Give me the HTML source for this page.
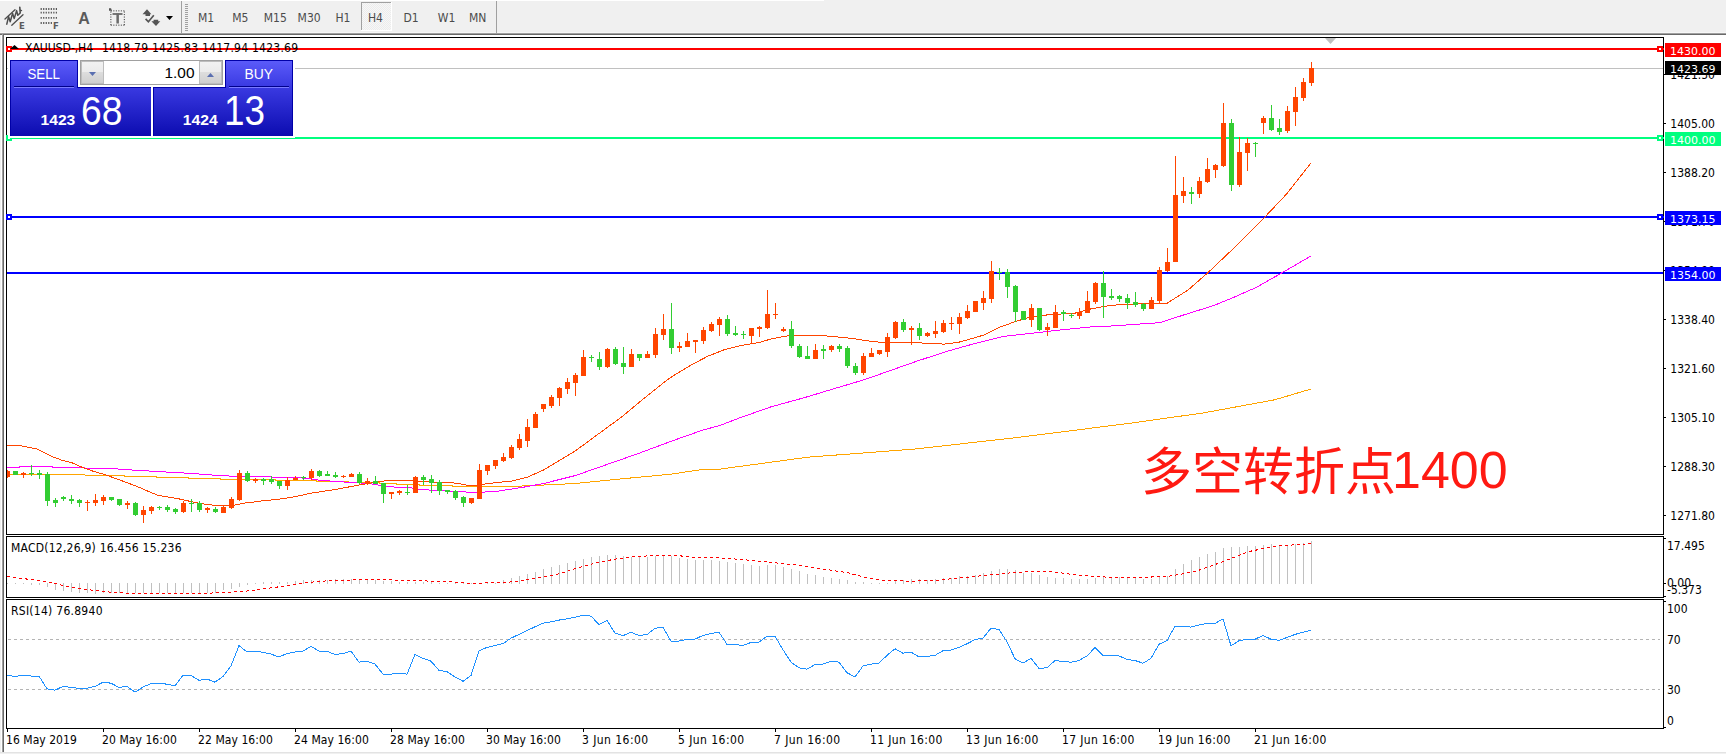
<!DOCTYPE html><html><head><meta charset="utf-8"><title>XAUUSD H4</title><style>html,body{margin:0;padding:0;background:#fff;width:1726px;height:754px;overflow:hidden}svg{display:block}</style></head><body>
<svg width="1726" height="754" viewBox="0 0 1726 754">
<defs><linearGradient id="gtab" x1="0" y1="0" x2="0" y2="1"><stop offset="0" stop-color="#5a5aff"/><stop offset="1" stop-color="#3c3ce6"/></linearGradient><linearGradient id="gbig" x1="0" y1="0" x2="0" y2="1"><stop offset="0" stop-color="#3c3ce6"/><stop offset="1" stop-color="#0a0ab4"/></linearGradient><linearGradient id="gbtn" x1="0" y1="0" x2="0" y2="1"><stop offset="0" stop-color="#f2f2f2"/><stop offset="0.5" stop-color="#ebebeb"/><stop offset="0.5" stop-color="#dddddd"/><stop offset="1" stop-color="#cfcfcf"/></linearGradient><pattern id="dith" width="2" height="2" patternUnits="userSpaceOnUse"><rect width="2" height="2" fill="#f7f7f7"/><rect width="1" height="1" fill="#ececec"/><rect x="1" y="1" width="1" height="1" fill="#ececec"/></pattern></defs>
<g shape-rendering="crispEdges">
<rect x="0" y="0" width="1726" height="33" fill="#f0f0f0"/>
<rect x="0" y="0" width="824" height="1" fill="#ffffff"/>
<rect x="0" y="32" width="1726" height="1" fill="#f7f7f7"/>
<rect x="0" y="33" width="1726" height="1" fill="#a0a0a0"/>
<rect x="0" y="34" width="1726" height="1" fill="#696969"/>
<rect x="0" y="35" width="1" height="717" fill="#f0f0f0"/>
<rect x="2" y="33" width="1" height="719" fill="#a0a0a0"/>
<rect x="3" y="34" width="1" height="718" fill="#696969"/>
<rect x="0" y="752" width="1726" height="1" fill="#e3e3e3"/>
<rect x="0" y="753" width="1726" height="1" fill="#f0f0f0"/>
<rect x="181" y="1" width="1" height="32" fill="#a0a0a0"/>
<rect x="496" y="1" width="1" height="32" fill="#a0a0a0"/>
<rect x="185" y="4" width="3" height="1" fill="#a0a0a0"/>
<rect x="185" y="6" width="3" height="1" fill="#a0a0a0"/>
<rect x="185" y="8" width="3" height="1" fill="#a0a0a0"/>
<rect x="185" y="10" width="3" height="1" fill="#a0a0a0"/>
<rect x="185" y="12" width="3" height="1" fill="#a0a0a0"/>
<rect x="185" y="14" width="3" height="1" fill="#a0a0a0"/>
<rect x="185" y="16" width="3" height="1" fill="#a0a0a0"/>
<rect x="185" y="18" width="3" height="1" fill="#a0a0a0"/>
<rect x="185" y="20" width="3" height="1" fill="#a0a0a0"/>
<rect x="185" y="22" width="3" height="1" fill="#a0a0a0"/>
<rect x="185" y="24" width="3" height="1" fill="#a0a0a0"/>
<rect x="185" y="26" width="3" height="1" fill="#a0a0a0"/>
<rect x="185" y="28" width="3" height="1" fill="#a0a0a0"/>
<rect x="185" y="30" width="3" height="1" fill="#a0a0a0"/>
<rect x="361" y="2" width="31" height="29" fill="url(#dith)"/>
<rect x="361" y="2" width="31" height="1" fill="#a0a0a0"/>
<rect x="361" y="2" width="1" height="29" fill="#a0a0a0"/>
<rect x="361" y="30" width="31" height="1" fill="#ffffff"/>
<rect x="391" y="2" width="1" height="29" fill="#ffffff"/>
</g>
<text x="198" y="22" style="font-family:'DejaVu Sans Condensed','DejaVu Sans',sans-serif;font-size:12px;fill:#4a4a4a;opacity:0.99">M1</text>
<text x="232.3" y="22" style="font-family:'DejaVu Sans Condensed','DejaVu Sans',sans-serif;font-size:12px;fill:#4a4a4a;opacity:0.99">M5</text>
<text x="263.8" y="22" style="font-family:'DejaVu Sans Condensed','DejaVu Sans',sans-serif;font-size:12px;fill:#4a4a4a;opacity:0.99">M15</text>
<text x="297.6" y="22" style="font-family:'DejaVu Sans Condensed','DejaVu Sans',sans-serif;font-size:12px;fill:#4a4a4a;opacity:0.99">M30</text>
<text x="335.4" y="22" style="font-family:'DejaVu Sans Condensed','DejaVu Sans',sans-serif;font-size:12px;fill:#4a4a4a;opacity:0.99">H1</text>
<text x="368" y="22" style="font-family:'DejaVu Sans Condensed','DejaVu Sans',sans-serif;font-size:12px;fill:#4a4a4a;opacity:0.99">H4</text>
<text x="403.4" y="22" style="font-family:'DejaVu Sans Condensed','DejaVu Sans',sans-serif;font-size:12px;fill:#4a4a4a;opacity:0.99">D1</text>
<text x="437.8" y="22" style="font-family:'DejaVu Sans Condensed','DejaVu Sans',sans-serif;font-size:12px;fill:#4a4a4a;opacity:0.99">W1</text>
<text x="469" y="22" style="font-family:'DejaVu Sans Condensed','DejaVu Sans',sans-serif;font-size:12px;fill:#4a4a4a;opacity:0.99">MN</text>
<g stroke="#4d4d4d" fill="none" stroke-linecap="round" stroke-linejoin="round"><line x1="5" y1="19" x2="15" y2="9.8" stroke-width="1.3"/><line x1="11.8" y1="25.3" x2="23" y2="14.8" stroke-width="1.3"/><polyline points="6.8,24.2 8.6,16.6 10.2,21.8 12.6,13.4 14.2,18.6 16.6,10.6 17.8,15.2 20,13.2" stroke-width="1.5"/><line x1="19.8" y1="7.2" x2="20.2" y2="12.5" stroke-width="1.6"/><line x1="20" y1="10" x2="21.6" y2="10.6" stroke-width="1.2"/></g><text x="19" y="29" style="font-family:'DejaVu Sans',sans-serif;font-size:8.5px;font-weight:bold;fill:#5a5a5a;opacity:0.99">E</text><line x1="40.6" y1="9" x2="57.2" y2="9" stroke="#555" stroke-width="1.8" stroke-dasharray="1.2 1.33"/><line x1="40.6" y1="12.7" x2="57.2" y2="12.7" stroke="#555" stroke-width="1.8" stroke-dasharray="1.2 1.33"/><line x1="40.6" y1="17.8" x2="57.2" y2="17.8" stroke="#555" stroke-width="1.8" stroke-dasharray="1.2 1.33"/><line x1="40.6" y1="23" x2="52.2" y2="23" stroke="#555" stroke-width="1.8" stroke-dasharray="1.2 1.33"/><text x="53" y="29" style="font-family:'DejaVu Sans',sans-serif;font-size:8.5px;font-weight:bold;fill:#5a5a5a;opacity:0.99">F</text><text x="78.2" y="24" style="font-family:'Liberation Sans',sans-serif;font-size:16px;font-weight:bold;fill:#5a5a5a;opacity:0.99">A</text><g fill="#4d4d4d"><rect x="110.8" y="10.3" width="1.1" height="1.1"/><rect x="110.8" y="24.6" width="1.1" height="1.1"/><rect x="113.3" y="10.3" width="1.1" height="1.1"/><rect x="113.3" y="24.6" width="1.1" height="1.1"/><rect x="115.8" y="10.3" width="1.1" height="1.1"/><rect x="115.8" y="24.6" width="1.1" height="1.1"/><rect x="118.3" y="10.3" width="1.1" height="1.1"/><rect x="118.3" y="24.6" width="1.1" height="1.1"/><rect x="120.8" y="10.3" width="1.1" height="1.1"/><rect x="120.8" y="24.6" width="1.1" height="1.1"/><rect x="123.3" y="10.3" width="1.1" height="1.1"/><rect x="123.3" y="24.6" width="1.1" height="1.1"/><rect x="110.3" y="11.5" width="1.1" height="1.1"/><rect x="123.8" y="11.5" width="1.1" height="1.1"/><rect x="110.3" y="14.0" width="1.1" height="1.1"/><rect x="123.8" y="14.0" width="1.1" height="1.1"/><rect x="110.3" y="16.5" width="1.1" height="1.1"/><rect x="123.8" y="16.5" width="1.1" height="1.1"/><rect x="110.3" y="19.0" width="1.1" height="1.1"/><rect x="123.8" y="19.0" width="1.1" height="1.1"/><rect x="110.3" y="21.5" width="1.1" height="1.1"/><rect x="123.8" y="21.5" width="1.1" height="1.1"/><rect x="110.3" y="24.0" width="1.1" height="1.1"/><rect x="123.8" y="24.0" width="1.1" height="1.1"/></g><path d="M109 8.2 L111 8.2 L112 10.8 L109 10.8 Z" fill="#555"/><rect x="112.5" y="13.1" width="10" height="1.8" fill="#6a6a6a"/><rect x="116.4" y="13.5" width="2.5" height="10" fill="#6a6a6a"/><path d="M142.5 14.3 L147 9.3 L151.4 14.3 L150 14.3 L150 15.9 L145.5 15.9 L145.5 14.3 Z" fill="#555"/><path d="M151.4 21.3 L153.6 21.3 L153.6 19.7 L158.2 19.7 L158.2 21.3 L160.3 21.3 L156 26 Z" fill="#555"/><polyline points="145.6,18.8 148.4,21.8 153.8,15.3" stroke="#555" stroke-width="1.7" fill="none"/><path d="M166 16 L173 16 L169.5 20 Z" fill="#000"/>
<g shape-rendering="crispEdges" fill="none" stroke="#000" stroke-width="1">
<rect x="6.5" y="37.5" width="1657" height="497"/>
<rect x="6.5" y="536.5" width="1657" height="61"/>
<rect x="6.5" y="599.5" width="1657" height="129"/>
</g>
<g shape-rendering="crispEdges">
<rect x="1664" y="74" width="2" height="1" fill="#000"/>
<rect x="1664" y="123" width="2" height="1" fill="#000"/>
<rect x="1664" y="172" width="2" height="1" fill="#000"/>
<rect x="1664" y="221" width="2" height="1" fill="#000"/>
<rect x="1664" y="270" width="2" height="1" fill="#000"/>
<rect x="1664" y="319" width="2" height="1" fill="#000"/>
<rect x="1664" y="368" width="2" height="1" fill="#000"/>
<rect x="1664" y="417" width="2" height="1" fill="#000"/>
<rect x="1664" y="466" width="2" height="1" fill="#000"/>
<rect x="1664" y="515" width="2" height="1" fill="#000"/>
</g>
<text x="1670.3" y="79" style="font-family:'DejaVu Sans Condensed','DejaVu Sans',sans-serif;font-size:12px;fill:#000">1421.50</text>
<text x="1670.3" y="128" style="font-family:'DejaVu Sans Condensed','DejaVu Sans',sans-serif;font-size:12px;fill:#000">1405.00</text>
<text x="1670.3" y="177" style="font-family:'DejaVu Sans Condensed','DejaVu Sans',sans-serif;font-size:12px;fill:#000">1388.20</text>
<text x="1670.3" y="226" style="font-family:'DejaVu Sans Condensed','DejaVu Sans',sans-serif;font-size:12px;fill:#000">1371.70</text>
<text x="1670.3" y="275" style="font-family:'DejaVu Sans Condensed','DejaVu Sans',sans-serif;font-size:12px;fill:#000">1354.90</text>
<text x="1670.3" y="324" style="font-family:'DejaVu Sans Condensed','DejaVu Sans',sans-serif;font-size:12px;fill:#000">1338.40</text>
<text x="1670.3" y="373" style="font-family:'DejaVu Sans Condensed','DejaVu Sans',sans-serif;font-size:12px;fill:#000">1321.60</text>
<text x="1670.3" y="422" style="font-family:'DejaVu Sans Condensed','DejaVu Sans',sans-serif;font-size:12px;fill:#000">1305.10</text>
<text x="1670.3" y="471" style="font-family:'DejaVu Sans Condensed','DejaVu Sans',sans-serif;font-size:12px;fill:#000">1288.30</text>
<text x="1670.3" y="520" style="font-family:'DejaVu Sans Condensed','DejaVu Sans',sans-serif;font-size:12px;fill:#000">1271.80</text>
<clipPath id="cmain"><rect x="7" y="38" width="1656" height="496"/></clipPath>
<g clip-path="url(#cmain)">
<rect x="7" y="68" width="1656" height="1" fill="#c0c0c0" shape-rendering="crispEdges"/>
<g shape-rendering="crispEdges">
<rect x="7" y="48" width="1656" height="2" fill="#ff0000"/>
<rect x="7" y="137" width="1656" height="2" fill="#00ff7f"/>
<rect x="7" y="216" width="1656" height="2" fill="#0000ff"/>
<rect x="7" y="272" width="1656" height="2" fill="#0000ff"/>
</g>
<polyline points="6.0,474.0 84.0,474.0 85.0,475.3 124.0,475.3 125.0,476.5 156.0,476.5 157.0,477.4 188.0,477.4 189.0,478.4 220.0,478.4 221.0,479.4 275.0,479.4 276.0,480.4 316.0,480.4 317.0,481.3 348.0,481.3 349.0,482.3 379.0,482.3 380.0,483.3 396.0,483.3 397.0,484.3 419.0,484.4 420.0,485.5 452.0,485.5 453.0,486.4 510.0,486.4 527.7,485.8 575.5,483.5 623.2,478.7 671.0,474.2 700.0,469.8 720.0,469.1 807.8,457.2 915.5,449.0 1023.3,436.8 1131.0,423.1 1202.9,413.0 1274.7,399.8 1311.0,389.0" fill="none" stroke="#ffa500" stroke-width="1" shape-rendering="crispEdges"/>
<polyline points="6.0,467.4 19.0,467.4 19.5,466.6 52.0,466.6 52.5,467.5 84.0,467.5 84.5,468.2 108.0,468.2 124.0,469.5 140.0,470.5 156.0,471.4 172.0,472.4 196.0,473.6 204.0,474.6 220.0,475.4 237.0,476.5 260.0,476.8 290.0,477.3 305.0,478.2 318.0,480.0 340.0,481.8 355.0,482.5 375.0,484.3 385.0,486.4 400.0,487.4 412.0,488.0 420.0,489.5 443.0,490.8 459.0,491.5 470.0,492.3 482.0,492.3 490.0,491.5 499.0,491.0 524.6,487.0 543.7,483.5 575.5,475.5 607.3,464.4 639.2,453.2 671.0,441.3 702.8,430.1 720.0,425.4 739.6,417.9 771.4,406.7 803.2,398.0 835.1,388.4 864.3,379.7 889.0,371.0 918.0,360.8 946.9,351.4 975.9,343.2 1004.8,336.2 1033.8,333.0 1062.8,329.7 1091.7,326.8 1110.0,326.1 1160.5,322.6 1183.2,315.1 1213.4,305.7 1233.6,297.4 1256.3,287.4 1276.4,276.0 1311.0,256.0" fill="none" stroke="#ff00ff" stroke-width="1" shape-rendering="crispEdges"/>
<polyline points="6.6,445.5 19.1,445.5 25.5,446.6 37.0,449.1 42.0,451.7 51.0,456.1 61.2,460.0 71.4,462.5 82.9,467.6 91.8,470.8 107.0,475.3 122.4,481.0 137.7,486.7 147.9,491.2 158.0,495.3 178.5,498.8 198.9,503.3 212.0,505.0 224.0,505.5 234.0,505.3 242.7,503.3 251.0,502.4 259.4,501.2 266.9,500.5 275.2,499.6 282.6,498.6 291.0,497.4 298.4,496.0 310.0,493.3 336.0,489.4 357.9,485.2 379.7,481.5 388.2,480.5 403.3,480.5 421.8,481.5 443.6,482.4 457.0,483.2 467.1,485.2 477.2,485.5 482.4,484.3 500.0,482.2 511.8,481.1 527.7,477.1 543.7,469.9 559.6,460.4 575.5,450.8 597.8,434.4 623.2,415.8 639.2,402.3 655.1,389.5 667.0,380.0 675.9,374.1 691.8,364.6 707.7,356.3 723.7,349.9 739.6,345.8 760.3,342.3 771.4,338.8 788.9,335.6 819.2,335.4 835.1,336.7 851.0,338.3 866.9,340.7 882.8,342.6 900.0,342.6 932.4,343.2 944.0,344.2 958.5,342.3 970.1,339.1 984.6,334.8 999.0,327.5 1015.0,321.7 1026.6,318.1 1041.0,315.6 1051.2,314.5 1074.4,313.3 1091.7,308.7 1110.0,305.5 1125.2,304.2 1166.8,303.4 1188.2,289.9 1208.4,272.2 1231.0,250.8 1251.2,230.6 1266.3,215.5 1286.5,194.1 1311.0,163.0" fill="none" stroke="#ff4500" stroke-width="1" shape-rendering="crispEdges"/>
<g shape-rendering="crispEdges">
<rect x="7" y="470" width="1" height="8" fill="#ff4500"/>
<rect x="5" y="471" width="5" height="6" fill="#ff4500"/>
<rect x="15" y="471" width="1" height="4" fill="#32cd32"/>
<rect x="13" y="471" width="5" height="4" fill="#32cd32"/>
<rect x="23" y="472" width="1" height="6" fill="#ff4500"/>
<rect x="21" y="473" width="5" height="2" fill="#ff4500"/>
<rect x="31" y="465" width="1" height="11" fill="#32cd32"/>
<rect x="29" y="473" width="5" height="1" fill="#32cd32"/>
<rect x="39" y="470" width="1" height="9" fill="#32cd32"/>
<rect x="37" y="473" width="5" height="2" fill="#32cd32"/>
<rect x="47" y="472" width="1" height="34" fill="#32cd32"/>
<rect x="45" y="474" width="5" height="27" fill="#32cd32"/>
<rect x="55" y="498" width="1" height="9" fill="#32cd32"/>
<rect x="53" y="500" width="5" height="3" fill="#32cd32"/>
<rect x="63" y="496" width="1" height="5" fill="#32cd32"/>
<rect x="61" y="497" width="5" height="2" fill="#32cd32"/>
<rect x="71" y="495" width="1" height="9" fill="#32cd32"/>
<rect x="69" y="499" width="5" height="2" fill="#32cd32"/>
<rect x="79" y="499" width="1" height="8" fill="#32cd32"/>
<rect x="77" y="500" width="5" height="3" fill="#32cd32"/>
<rect x="87" y="500" width="1" height="11" fill="#ff4500"/>
<rect x="85" y="502" width="5" height="1" fill="#ff4500"/>
<rect x="95" y="494" width="1" height="12" fill="#ff4500"/>
<rect x="93" y="500" width="5" height="3" fill="#ff4500"/>
<rect x="103" y="495" width="1" height="10" fill="#ff4500"/>
<rect x="101" y="497" width="5" height="4" fill="#ff4500"/>
<rect x="111" y="497" width="1" height="4" fill="#32cd32"/>
<rect x="109" y="497" width="5" height="3" fill="#32cd32"/>
<rect x="119" y="499" width="1" height="7" fill="#32cd32"/>
<rect x="117" y="499" width="5" height="6" fill="#32cd32"/>
<rect x="127" y="501" width="1" height="8" fill="#ff4500"/>
<rect x="125" y="503" width="5" height="2" fill="#ff4500"/>
<rect x="135" y="502" width="1" height="14" fill="#32cd32"/>
<rect x="133" y="503" width="5" height="12" fill="#32cd32"/>
<rect x="143" y="506" width="1" height="17" fill="#ff4500"/>
<rect x="141" y="510" width="5" height="5" fill="#ff4500"/>
<rect x="151" y="506" width="1" height="8" fill="#ff4500"/>
<rect x="149" y="507" width="5" height="4" fill="#ff4500"/>
<rect x="159" y="506" width="1" height="4" fill="#32cd32"/>
<rect x="157" y="507" width="5" height="1" fill="#32cd32"/>
<rect x="167" y="505" width="1" height="7" fill="#32cd32"/>
<rect x="165" y="507" width="5" height="3" fill="#32cd32"/>
<rect x="175" y="508" width="1" height="6" fill="#32cd32"/>
<rect x="173" y="509" width="5" height="3" fill="#32cd32"/>
<rect x="183" y="501" width="1" height="12" fill="#ff4500"/>
<rect x="181" y="503" width="5" height="9" fill="#ff4500"/>
<rect x="191" y="499" width="1" height="13" fill="#32cd32"/>
<rect x="189" y="503" width="5" height="1" fill="#32cd32"/>
<rect x="199" y="501" width="1" height="11" fill="#32cd32"/>
<rect x="197" y="503" width="5" height="7" fill="#32cd32"/>
<rect x="207" y="507" width="1" height="6" fill="#ff4500"/>
<rect x="205" y="508" width="5" height="2" fill="#ff4500"/>
<rect x="215" y="507" width="1" height="6" fill="#32cd32"/>
<rect x="213" y="509" width="5" height="3" fill="#32cd32"/>
<rect x="223" y="506" width="1" height="7" fill="#ff4500"/>
<rect x="221" y="507" width="5" height="6" fill="#ff4500"/>
<rect x="231" y="497" width="1" height="12" fill="#ff4500"/>
<rect x="229" y="499" width="5" height="9" fill="#ff4500"/>
<rect x="239" y="470" width="1" height="31" fill="#ff4500"/>
<rect x="237" y="473" width="5" height="27" fill="#ff4500"/>
<rect x="247" y="471" width="1" height="11" fill="#32cd32"/>
<rect x="245" y="473" width="5" height="8" fill="#32cd32"/>
<rect x="255" y="478" width="1" height="5" fill="#ff4500"/>
<rect x="253" y="479" width="5" height="2" fill="#ff4500"/>
<rect x="263" y="478" width="1" height="7" fill="#32cd32"/>
<rect x="261" y="479" width="5" height="2" fill="#32cd32"/>
<rect x="271" y="476" width="1" height="8" fill="#32cd32"/>
<rect x="269" y="479" width="5" height="3" fill="#32cd32"/>
<rect x="279" y="481" width="1" height="8" fill="#32cd32"/>
<rect x="277" y="481" width="5" height="5" fill="#32cd32"/>
<rect x="287" y="477" width="1" height="13" fill="#ff4500"/>
<rect x="285" y="480" width="5" height="6" fill="#ff4500"/>
<rect x="295" y="476" width="1" height="4" fill="#ff4500"/>
<rect x="293" y="478" width="5" height="2" fill="#ff4500"/>
<rect x="303" y="476" width="1" height="4" fill="#32cd32"/>
<rect x="301" y="477" width="5" height="1" fill="#32cd32"/>
<rect x="311" y="469" width="1" height="11" fill="#ff4500"/>
<rect x="309" y="471" width="5" height="7" fill="#ff4500"/>
<rect x="319" y="470" width="1" height="7" fill="#32cd32"/>
<rect x="317" y="471" width="5" height="5" fill="#32cd32"/>
<rect x="327" y="471" width="1" height="5" fill="#32cd32"/>
<rect x="325" y="474" width="5" height="2" fill="#32cd32"/>
<rect x="335" y="472" width="1" height="6" fill="#32cd32"/>
<rect x="333" y="475" width="5" height="2" fill="#32cd32"/>
<rect x="343" y="475" width="1" height="3" fill="#ff4500"/>
<rect x="341" y="476" width="5" height="1" fill="#ff4500"/>
<rect x="351" y="473" width="1" height="4" fill="#ff4500"/>
<rect x="349" y="474" width="5" height="3" fill="#ff4500"/>
<rect x="359" y="472" width="1" height="12" fill="#32cd32"/>
<rect x="357" y="474" width="5" height="9" fill="#32cd32"/>
<rect x="367" y="478" width="1" height="7" fill="#ff4500"/>
<rect x="365" y="481" width="5" height="3" fill="#ff4500"/>
<rect x="375" y="476" width="1" height="8" fill="#32cd32"/>
<rect x="373" y="481" width="5" height="3" fill="#32cd32"/>
<rect x="383" y="483" width="1" height="20" fill="#32cd32"/>
<rect x="381" y="483" width="5" height="11" fill="#32cd32"/>
<rect x="391" y="492" width="1" height="7" fill="#ff4500"/>
<rect x="389" y="492" width="5" height="2" fill="#ff4500"/>
<rect x="399" y="490" width="1" height="5" fill="#ff4500"/>
<rect x="397" y="491" width="5" height="2" fill="#ff4500"/>
<rect x="407" y="485" width="1" height="10" fill="#32cd32"/>
<rect x="405" y="492" width="5" height="1" fill="#32cd32"/>
<rect x="415" y="476" width="1" height="17" fill="#ff4500"/>
<rect x="413" y="477" width="5" height="16" fill="#ff4500"/>
<rect x="423" y="475" width="1" height="10" fill="#32cd32"/>
<rect x="421" y="477" width="5" height="3" fill="#32cd32"/>
<rect x="431" y="475" width="1" height="18" fill="#32cd32"/>
<rect x="429" y="479" width="5" height="4" fill="#32cd32"/>
<rect x="439" y="480" width="1" height="15" fill="#32cd32"/>
<rect x="437" y="482" width="5" height="9" fill="#32cd32"/>
<rect x="447" y="490" width="1" height="4" fill="#32cd32"/>
<rect x="445" y="490" width="5" height="2" fill="#32cd32"/>
<rect x="455" y="490" width="1" height="10" fill="#32cd32"/>
<rect x="453" y="491" width="5" height="7" fill="#32cd32"/>
<rect x="463" y="496" width="1" height="11" fill="#32cd32"/>
<rect x="461" y="497" width="5" height="6" fill="#32cd32"/>
<rect x="471" y="498" width="1" height="6" fill="#ff4500"/>
<rect x="469" y="498" width="5" height="5" fill="#ff4500"/>
<rect x="479" y="464" width="1" height="35" fill="#ff4500"/>
<rect x="477" y="470" width="5" height="29" fill="#ff4500"/>
<rect x="487" y="465" width="1" height="10" fill="#ff4500"/>
<rect x="485" y="465" width="5" height="6" fill="#ff4500"/>
<rect x="495" y="460" width="1" height="9" fill="#ff4500"/>
<rect x="493" y="460" width="5" height="6" fill="#ff4500"/>
<rect x="503" y="453" width="1" height="9" fill="#ff4500"/>
<rect x="501" y="457" width="5" height="4" fill="#ff4500"/>
<rect x="511" y="445" width="1" height="14" fill="#ff4500"/>
<rect x="509" y="447" width="5" height="11" fill="#ff4500"/>
<rect x="519" y="434" width="1" height="16" fill="#ff4500"/>
<rect x="517" y="439" width="5" height="9" fill="#ff4500"/>
<rect x="527" y="419" width="1" height="28" fill="#ff4500"/>
<rect x="525" y="427" width="5" height="14" fill="#ff4500"/>
<rect x="535" y="412" width="1" height="16" fill="#ff4500"/>
<rect x="533" y="414" width="5" height="14" fill="#ff4500"/>
<rect x="543" y="404" width="1" height="8" fill="#ff4500"/>
<rect x="541" y="404" width="5" height="5" fill="#ff4500"/>
<rect x="551" y="395" width="1" height="13" fill="#ff4500"/>
<rect x="549" y="397" width="5" height="9" fill="#ff4500"/>
<rect x="559" y="387" width="1" height="19" fill="#ff4500"/>
<rect x="557" y="388" width="5" height="10" fill="#ff4500"/>
<rect x="567" y="378" width="1" height="16" fill="#ff4500"/>
<rect x="565" y="382" width="5" height="7" fill="#ff4500"/>
<rect x="575" y="373" width="1" height="23" fill="#ff4500"/>
<rect x="573" y="375" width="5" height="8" fill="#ff4500"/>
<rect x="583" y="350" width="1" height="26" fill="#ff4500"/>
<rect x="581" y="357" width="5" height="19" fill="#ff4500"/>
<rect x="591" y="355" width="1" height="7" fill="#32cd32"/>
<rect x="589" y="357" width="5" height="1" fill="#32cd32"/>
<rect x="599" y="352" width="1" height="18" fill="#32cd32"/>
<rect x="597" y="359" width="5" height="8" fill="#32cd32"/>
<rect x="607" y="348" width="1" height="20" fill="#ff4500"/>
<rect x="605" y="349" width="5" height="18" fill="#ff4500"/>
<rect x="615" y="347" width="1" height="18" fill="#32cd32"/>
<rect x="613" y="349" width="5" height="15" fill="#32cd32"/>
<rect x="623" y="347" width="1" height="27" fill="#32cd32"/>
<rect x="621" y="363" width="5" height="4" fill="#32cd32"/>
<rect x="631" y="349" width="1" height="18" fill="#ff4500"/>
<rect x="629" y="354" width="5" height="13" fill="#ff4500"/>
<rect x="639" y="354" width="1" height="7" fill="#32cd32"/>
<rect x="637" y="354" width="5" height="4" fill="#32cd32"/>
<rect x="647" y="351" width="1" height="7" fill="#ff4500"/>
<rect x="645" y="354" width="5" height="4" fill="#ff4500"/>
<rect x="655" y="328" width="1" height="30" fill="#ff4500"/>
<rect x="653" y="334" width="5" height="21" fill="#ff4500"/>
<rect x="663" y="314" width="1" height="26" fill="#ff4500"/>
<rect x="661" y="329" width="5" height="6" fill="#ff4500"/>
<rect x="671" y="303" width="1" height="51" fill="#32cd32"/>
<rect x="669" y="329" width="5" height="19" fill="#32cd32"/>
<rect x="679" y="342" width="1" height="10" fill="#ff4500"/>
<rect x="677" y="346" width="5" height="2" fill="#ff4500"/>
<rect x="687" y="333" width="1" height="14" fill="#ff4500"/>
<rect x="685" y="341" width="5" height="6" fill="#ff4500"/>
<rect x="695" y="340" width="1" height="13" fill="#ff4500"/>
<rect x="693" y="340" width="5" height="2" fill="#ff4500"/>
<rect x="703" y="327" width="1" height="17" fill="#ff4500"/>
<rect x="701" y="330" width="5" height="11" fill="#ff4500"/>
<rect x="711" y="322" width="1" height="10" fill="#ff4500"/>
<rect x="709" y="324" width="5" height="7" fill="#ff4500"/>
<rect x="719" y="317" width="1" height="19" fill="#ff4500"/>
<rect x="717" y="319" width="5" height="6" fill="#ff4500"/>
<rect x="727" y="315" width="1" height="21" fill="#32cd32"/>
<rect x="725" y="319" width="5" height="15" fill="#32cd32"/>
<rect x="735" y="326" width="1" height="10" fill="#32cd32"/>
<rect x="733" y="333" width="5" height="2" fill="#32cd32"/>
<rect x="743" y="331" width="1" height="8" fill="#32cd32"/>
<rect x="741" y="334" width="5" height="1" fill="#32cd32"/>
<rect x="751" y="328" width="1" height="15" fill="#ff4500"/>
<rect x="749" y="328" width="5" height="8" fill="#ff4500"/>
<rect x="759" y="326" width="1" height="11" fill="#ff4500"/>
<rect x="757" y="327" width="5" height="2" fill="#ff4500"/>
<rect x="767" y="290" width="1" height="39" fill="#ff4500"/>
<rect x="765" y="314" width="5" height="14" fill="#ff4500"/>
<rect x="775" y="303" width="1" height="16" fill="#ff4500"/>
<rect x="773" y="314" width="5" height="1" fill="#ff4500"/>
<rect x="783" y="327" width="1" height="5" fill="#ff4500"/>
<rect x="781" y="329" width="5" height="2" fill="#ff4500"/>
<rect x="791" y="321" width="1" height="27" fill="#32cd32"/>
<rect x="789" y="329" width="5" height="17" fill="#32cd32"/>
<rect x="799" y="344" width="1" height="14" fill="#32cd32"/>
<rect x="797" y="346" width="5" height="11" fill="#32cd32"/>
<rect x="807" y="346" width="1" height="13" fill="#32cd32"/>
<rect x="805" y="356" width="5" height="3" fill="#32cd32"/>
<rect x="815" y="344" width="1" height="15" fill="#ff4500"/>
<rect x="813" y="350" width="5" height="9" fill="#ff4500"/>
<rect x="823" y="345" width="1" height="14" fill="#32cd32"/>
<rect x="821" y="349" width="5" height="2" fill="#32cd32"/>
<rect x="831" y="345" width="1" height="7" fill="#ff4500"/>
<rect x="829" y="346" width="5" height="4" fill="#ff4500"/>
<rect x="839" y="344" width="1" height="8" fill="#32cd32"/>
<rect x="837" y="346" width="5" height="3" fill="#32cd32"/>
<rect x="847" y="346" width="1" height="22" fill="#32cd32"/>
<rect x="845" y="348" width="5" height="18" fill="#32cd32"/>
<rect x="855" y="363" width="1" height="12" fill="#32cd32"/>
<rect x="853" y="366" width="5" height="7" fill="#32cd32"/>
<rect x="863" y="353" width="1" height="22" fill="#ff4500"/>
<rect x="861" y="356" width="5" height="17" fill="#ff4500"/>
<rect x="871" y="348" width="1" height="9" fill="#ff4500"/>
<rect x="869" y="353" width="5" height="4" fill="#ff4500"/>
<rect x="879" y="350" width="1" height="5" fill="#ff4500"/>
<rect x="877" y="350" width="5" height="4" fill="#ff4500"/>
<rect x="887" y="333" width="1" height="24" fill="#ff4500"/>
<rect x="885" y="337" width="5" height="15" fill="#ff4500"/>
<rect x="895" y="321" width="1" height="18" fill="#ff4500"/>
<rect x="893" y="322" width="5" height="16" fill="#ff4500"/>
<rect x="903" y="319" width="1" height="13" fill="#32cd32"/>
<rect x="901" y="322" width="5" height="8" fill="#32cd32"/>
<rect x="911" y="326" width="1" height="19" fill="#ff4500"/>
<rect x="909" y="328" width="5" height="2" fill="#ff4500"/>
<rect x="919" y="323" width="1" height="17" fill="#32cd32"/>
<rect x="917" y="328" width="5" height="8" fill="#32cd32"/>
<rect x="927" y="332" width="1" height="5" fill="#ff4500"/>
<rect x="925" y="333" width="5" height="3" fill="#ff4500"/>
<rect x="935" y="321" width="1" height="17" fill="#ff4500"/>
<rect x="933" y="331" width="5" height="3" fill="#ff4500"/>
<rect x="943" y="320" width="1" height="13" fill="#ff4500"/>
<rect x="941" y="323" width="5" height="9" fill="#ff4500"/>
<rect x="951" y="317" width="1" height="13" fill="#ff4500"/>
<rect x="949" y="323" width="5" height="1" fill="#ff4500"/>
<rect x="959" y="313" width="1" height="21" fill="#ff4500"/>
<rect x="957" y="317" width="5" height="7" fill="#ff4500"/>
<rect x="967" y="305" width="1" height="14" fill="#ff4500"/>
<rect x="965" y="311" width="5" height="7" fill="#ff4500"/>
<rect x="975" y="301" width="1" height="11" fill="#ff4500"/>
<rect x="973" y="301" width="5" height="11" fill="#ff4500"/>
<rect x="983" y="291" width="1" height="19" fill="#ff4500"/>
<rect x="981" y="298" width="5" height="5" fill="#ff4500"/>
<rect x="991" y="261" width="1" height="42" fill="#ff4500"/>
<rect x="989" y="271" width="5" height="28" fill="#ff4500"/>
<rect x="999" y="268" width="1" height="12" fill="#32cd32"/>
<rect x="997" y="272" width="5" height="1" fill="#32cd32"/>
<rect x="1007" y="269" width="1" height="29" fill="#32cd32"/>
<rect x="1005" y="272" width="5" height="15" fill="#32cd32"/>
<rect x="1015" y="285" width="1" height="37" fill="#32cd32"/>
<rect x="1013" y="286" width="5" height="26" fill="#32cd32"/>
<rect x="1023" y="311" width="1" height="9" fill="#32cd32"/>
<rect x="1021" y="311" width="5" height="9" fill="#32cd32"/>
<rect x="1031" y="304" width="1" height="23" fill="#ff4500"/>
<rect x="1029" y="308" width="5" height="12" fill="#ff4500"/>
<rect x="1039" y="308" width="1" height="23" fill="#32cd32"/>
<rect x="1037" y="308" width="5" height="22" fill="#32cd32"/>
<rect x="1047" y="323" width="1" height="13" fill="#ff4500"/>
<rect x="1045" y="327" width="5" height="3" fill="#ff4500"/>
<rect x="1055" y="305" width="1" height="23" fill="#ff4500"/>
<rect x="1053" y="312" width="5" height="16" fill="#ff4500"/>
<rect x="1063" y="310" width="1" height="11" fill="#32cd32"/>
<rect x="1061" y="312" width="5" height="2" fill="#32cd32"/>
<rect x="1071" y="313" width="1" height="5" fill="#32cd32"/>
<rect x="1069" y="315" width="5" height="1" fill="#32cd32"/>
<rect x="1079" y="308" width="1" height="11" fill="#ff4500"/>
<rect x="1077" y="312" width="5" height="4" fill="#ff4500"/>
<rect x="1087" y="291" width="1" height="22" fill="#ff4500"/>
<rect x="1085" y="301" width="5" height="12" fill="#ff4500"/>
<rect x="1095" y="282" width="1" height="22" fill="#ff4500"/>
<rect x="1093" y="283" width="5" height="19" fill="#ff4500"/>
<rect x="1103" y="271" width="1" height="47" fill="#32cd32"/>
<rect x="1101" y="283" width="5" height="14" fill="#32cd32"/>
<rect x="1111" y="289" width="1" height="11" fill="#32cd32"/>
<rect x="1109" y="296" width="5" height="2" fill="#32cd32"/>
<rect x="1119" y="295" width="1" height="7" fill="#32cd32"/>
<rect x="1117" y="296" width="5" height="3" fill="#32cd32"/>
<rect x="1127" y="294" width="1" height="15" fill="#32cd32"/>
<rect x="1125" y="298" width="5" height="5" fill="#32cd32"/>
<rect x="1135" y="292" width="1" height="15" fill="#32cd32"/>
<rect x="1133" y="302" width="5" height="3" fill="#32cd32"/>
<rect x="1143" y="303" width="1" height="8" fill="#32cd32"/>
<rect x="1141" y="304" width="5" height="5" fill="#32cd32"/>
<rect x="1151" y="297" width="1" height="12" fill="#ff4500"/>
<rect x="1149" y="300" width="5" height="9" fill="#ff4500"/>
<rect x="1159" y="267" width="1" height="36" fill="#ff4500"/>
<rect x="1157" y="270" width="5" height="31" fill="#ff4500"/>
<rect x="1167" y="248" width="1" height="24" fill="#ff4500"/>
<rect x="1165" y="262" width="5" height="9" fill="#ff4500"/>
<rect x="1175" y="156" width="1" height="106" fill="#ff4500"/>
<rect x="1173" y="195" width="5" height="67" fill="#ff4500"/>
<rect x="1183" y="177" width="1" height="26" fill="#ff4500"/>
<rect x="1181" y="191" width="5" height="5" fill="#ff4500"/>
<rect x="1191" y="187" width="1" height="17" fill="#32cd32"/>
<rect x="1189" y="192" width="5" height="2" fill="#32cd32"/>
<rect x="1199" y="177" width="1" height="21" fill="#ff4500"/>
<rect x="1197" y="181" width="5" height="13" fill="#ff4500"/>
<rect x="1207" y="158" width="1" height="25" fill="#ff4500"/>
<rect x="1205" y="169" width="5" height="13" fill="#ff4500"/>
<rect x="1215" y="164" width="1" height="14" fill="#ff4500"/>
<rect x="1213" y="165" width="5" height="5" fill="#ff4500"/>
<rect x="1223" y="103" width="1" height="64" fill="#ff4500"/>
<rect x="1221" y="123" width="5" height="43" fill="#ff4500"/>
<rect x="1231" y="119" width="1" height="72" fill="#32cd32"/>
<rect x="1229" y="123" width="5" height="62" fill="#32cd32"/>
<rect x="1239" y="137" width="1" height="50" fill="#ff4500"/>
<rect x="1237" y="152" width="5" height="33" fill="#ff4500"/>
<rect x="1247" y="138" width="1" height="33" fill="#ff4500"/>
<rect x="1245" y="143" width="5" height="10" fill="#ff4500"/>
<rect x="1255" y="142" width="1" height="15" fill="#32cd32"/>
<rect x="1253" y="143" width="5" height="1" fill="#32cd32"/>
<rect x="1263" y="116" width="1" height="18" fill="#ff4500"/>
<rect x="1261" y="118" width="5" height="5" fill="#ff4500"/>
<rect x="1271" y="105" width="1" height="26" fill="#32cd32"/>
<rect x="1269" y="118" width="5" height="12" fill="#32cd32"/>
<rect x="1279" y="119" width="1" height="16" fill="#32cd32"/>
<rect x="1277" y="128" width="5" height="4" fill="#32cd32"/>
<rect x="1287" y="106" width="1" height="27" fill="#ff4500"/>
<rect x="1285" y="111" width="5" height="20" fill="#ff4500"/>
<rect x="1295" y="87" width="1" height="39" fill="#ff4500"/>
<rect x="1293" y="97" width="5" height="15" fill="#ff4500"/>
<rect x="1303" y="78" width="1" height="23" fill="#ff4500"/>
<rect x="1301" y="82" width="5" height="16" fill="#ff4500"/>
<rect x="1311" y="62" width="1" height="24" fill="#ff4500"/>
<rect x="1309" y="68" width="5" height="15" fill="#ff4500"/>
</g>
</g>
<g shape-rendering="crispEdges">
<rect x="6" y="46" width="6" height="6" fill="#ff0000"/><rect x="8" y="48" width="2" height="2" fill="#fff"/><rect x="1657" y="46" width="6" height="6" fill="#ff0000"/><rect x="1659" y="48" width="2" height="2" fill="#fff"/>
<rect x="6" y="135" width="6" height="6" fill="#00ff7f"/><rect x="8" y="137" width="2" height="2" fill="#fff"/><rect x="1657" y="135" width="6" height="6" fill="#00ff7f"/><rect x="1659" y="137" width="2" height="2" fill="#fff"/>
<rect x="6" y="214" width="6" height="6" fill="#0000ff"/><rect x="8" y="216" width="2" height="2" fill="#fff"/><rect x="1657" y="214" width="6" height="6" fill="#0000ff"/><rect x="1659" y="216" width="2" height="2" fill="#fff"/>
</g>
<g shape-rendering="crispEdges">
<rect x="1663" y="48" width="1" height="2" fill="#ff0000"/>
<rect x="1663" y="137" width="1" height="2" fill="#00ff7f"/>
<rect x="1663" y="216" width="1" height="2" fill="#0000ff"/>
</g>
<text x="1141" y="490" style="font-family:'Liberation Sans','Noto Sans CJK SC',sans-serif;font-size:51px;fill:#ff1a12">多空转折点</text>
<text x="1392" y="487.5" style="font-family:'Liberation Sans','Noto Sans CJK SC',sans-serif;font-size:52px;fill:#ff1a12">1400</text>
<rect x="1665" y="43" width="56" height="14" fill="#ff0000" shape-rendering="crispEdges"/><text x="1670" y="54.5" style="font-family:'DejaVu Sans',sans-serif;font-size:11px;fill:#fff">1430.00</text>
<rect x="1665" y="61" width="56" height="14" fill="#000000" shape-rendering="crispEdges"/><text x="1670" y="72.5" style="font-family:'DejaVu Sans',sans-serif;font-size:11px;fill:#fff">1423.69</text>
<rect x="1665" y="132" width="56" height="14" fill="#00ff7f" shape-rendering="crispEdges"/><text x="1670" y="143.5" style="font-family:'DejaVu Sans',sans-serif;font-size:11px;fill:#fff">1400.00</text>
<rect x="1665" y="211" width="56" height="14" fill="#0000ff" shape-rendering="crispEdges"/><text x="1670" y="222.5" style="font-family:'DejaVu Sans',sans-serif;font-size:11px;fill:#fff">1373.15</text>
<rect x="1665" y="267" width="56" height="14" fill="#0000ff" shape-rendering="crispEdges"/><text x="1670" y="278.5" style="font-family:'DejaVu Sans',sans-serif;font-size:11px;fill:#fff">1354.00</text>
<path d="M1325 38 L1336 38 L1330.5 44 Z" fill="#c0c0c0"/>
<path d="M10 49 L14.5 45 L19 49 Z" fill="#000"/>
<text x="25" y="52" style="font-family:'DejaVu Sans Condensed','DejaVu Sans',sans-serif;font-size:12px;fill:#000">XAUUSD-,H4</text>
<text x="102" y="52" textLength="46" style="font-family:'DejaVu Sans Condensed','DejaVu Sans',sans-serif;font-size:12px;fill:#000">1418.79</text>
<text x="152" y="52" textLength="46" style="font-family:'DejaVu Sans Condensed','DejaVu Sans',sans-serif;font-size:12px;fill:#000">1425.83</text>
<text x="202" y="52" textLength="46" style="font-family:'DejaVu Sans Condensed','DejaVu Sans',sans-serif;font-size:12px;fill:#000">1417.94</text>
<text x="252" y="52" textLength="46" style="font-family:'DejaVu Sans Condensed','DejaVu Sans',sans-serif;font-size:12px;fill:#000">1423.69</text>
<linearGradient id="gpan" gradientUnits="userSpaceOnUse" x1="0" y1="60" x2="0" y2="136"><stop offset="0" stop-color="#5c5cfa"/><stop offset="0.35" stop-color="#3a3ae2"/><stop offset="1" stop-color="#0c0cb0"/></linearGradient><g shape-rendering="crispEdges"><rect x="8" y="58" width="287" height="80" fill="#fff"/><path d="M10 60 H78 V87 H151 V136 H10 Z" fill="url(#gpan)"/><path d="M10.5 136 V60.5 H77.5 V87.5 H151" fill="none" stroke="#0000a8"/><path d="M293 60 H225 V87 H153 V136 H293 Z" fill="url(#gpan)"/><path d="M153.5 136 V87.5 H225.5 V60.5 H292.5 V136" fill="none" stroke="#0000a8"/><rect x="14" y="86" width="60" height="1" fill="#00008a"/><rect x="14" y="87" width="60" height="1" fill="#7a7aff"/><rect x="229" y="86" width="60" height="1" fill="#00008a"/><rect x="229" y="87" width="60" height="1" fill="#7a7aff"/><rect x="80" y="60" width="143" height="25" fill="#fff"/><rect x="80.5" y="60.5" width="142" height="24" fill="none" stroke="#a0a0a0"/><rect x="82" y="62" width="21" height="21" fill="url(#gbtn)"/><rect x="81.5" y="61.5" width="22" height="22" fill="none" stroke="#bdbdbd"/><rect x="200" y="62" width="21" height="21" fill="url(#gbtn)"/><rect x="199.5" y="61.5" width="22" height="22" fill="none" stroke="#bdbdbd"/></g><path d="M89 72 L96 72 L92.5 76 Z" fill="#5a6fb0"/><path d="M207 77 L214 77 L210.5 73 Z" fill="#5a6fb0"/><text x="27.5" y="79" textLength="32.5" lengthAdjust="spacingAndGlyphs" style="font-family:'Liberation Sans',sans-serif;fill:#fff;font-size:14.5px">SELL</text><text x="244.5" y="79" textLength="28.5" lengthAdjust="spacingAndGlyphs" style="font-family:'Liberation Sans',sans-serif;fill:#fff;font-size:14.5px">BUY</text><text x="164.5" y="78" textLength="30" lengthAdjust="spacingAndGlyphs" style="font-family:'Liberation Sans',sans-serif;font-size:14.8px;fill:#000">1.00</text><text x="40.5" y="125" textLength="34.8" lengthAdjust="spacingAndGlyphs" style="font-family:'Liberation Sans',sans-serif;fill:#fff;font-size:14.4px;font-weight:bold">1423</text><text x="81" y="125" textLength="41.5" lengthAdjust="spacingAndGlyphs" style="font-family:'Liberation Sans',sans-serif;fill:#fff;font-size:40.5px">68</text><text x="182.7" y="125" textLength="35" lengthAdjust="spacingAndGlyphs" style="font-family:'Liberation Sans',sans-serif;fill:#fff;font-size:14.4px;font-weight:bold">1424</text><text x="224" y="125" textLength="41" lengthAdjust="spacingAndGlyphs" style="font-family:'Liberation Sans',sans-serif;fill:#fff;font-size:42px">13</text>
<g shape-rendering="crispEdges">
<rect x="7" y="583" width="1" height="1" fill="#c0c0c0"/>
<rect x="15" y="583" width="1" height="1" fill="#c0c0c0"/>
<rect x="23" y="583" width="1" height="1" fill="#c0c0c0"/>
<rect x="31" y="583" width="1" height="2" fill="#c0c0c0"/>
<rect x="39" y="583" width="1" height="2" fill="#c0c0c0"/>
<rect x="47" y="583" width="1" height="4" fill="#c0c0c0"/>
<rect x="55" y="583" width="1" height="7" fill="#c0c0c0"/>
<rect x="63" y="583" width="1" height="8" fill="#c0c0c0"/>
<rect x="71" y="583" width="1" height="9" fill="#c0c0c0"/>
<rect x="79" y="583" width="1" height="10" fill="#c0c0c0"/>
<rect x="87" y="583" width="1" height="10" fill="#c0c0c0"/>
<rect x="95" y="583" width="1" height="11" fill="#c0c0c0"/>
<rect x="103" y="583" width="1" height="10" fill="#c0c0c0"/>
<rect x="111" y="583" width="1" height="10" fill="#c0c0c0"/>
<rect x="119" y="583" width="1" height="10" fill="#c0c0c0"/>
<rect x="127" y="583" width="1" height="10" fill="#c0c0c0"/>
<rect x="135" y="583" width="1" height="10" fill="#c0c0c0"/>
<rect x="143" y="583" width="1" height="10" fill="#c0c0c0"/>
<rect x="151" y="583" width="1" height="10" fill="#c0c0c0"/>
<rect x="159" y="583" width="1" height="10" fill="#c0c0c0"/>
<rect x="167" y="583" width="1" height="10" fill="#c0c0c0"/>
<rect x="175" y="583" width="1" height="10" fill="#c0c0c0"/>
<rect x="183" y="583" width="1" height="10" fill="#c0c0c0"/>
<rect x="191" y="583" width="1" height="10" fill="#c0c0c0"/>
<rect x="199" y="583" width="1" height="10" fill="#c0c0c0"/>
<rect x="207" y="583" width="1" height="10" fill="#c0c0c0"/>
<rect x="215" y="583" width="1" height="10" fill="#c0c0c0"/>
<rect x="223" y="583" width="1" height="7" fill="#c0c0c0"/>
<rect x="231" y="583" width="1" height="6" fill="#c0c0c0"/>
<rect x="239" y="583" width="1" height="4" fill="#c0c0c0"/>
<rect x="247" y="583" width="1" height="2" fill="#c0c0c0"/>
<rect x="255" y="583" width="1" height="1" fill="#c0c0c0"/>
<rect x="263" y="582" width="1" height="2" fill="#c0c0c0"/>
<rect x="271" y="582" width="1" height="2" fill="#c0c0c0"/>
<rect x="279" y="582" width="1" height="2" fill="#c0c0c0"/>
<rect x="287" y="582" width="1" height="2" fill="#c0c0c0"/>
<rect x="295" y="581" width="1" height="3" fill="#c0c0c0"/>
<rect x="303" y="580" width="1" height="4" fill="#c0c0c0"/>
<rect x="311" y="580" width="1" height="4" fill="#c0c0c0"/>
<rect x="319" y="580" width="1" height="4" fill="#c0c0c0"/>
<rect x="327" y="580" width="1" height="4" fill="#c0c0c0"/>
<rect x="335" y="579" width="1" height="5" fill="#c0c0c0"/>
<rect x="343" y="579" width="1" height="5" fill="#c0c0c0"/>
<rect x="351" y="579" width="1" height="5" fill="#c0c0c0"/>
<rect x="359" y="579" width="1" height="5" fill="#c0c0c0"/>
<rect x="367" y="580" width="1" height="4" fill="#c0c0c0"/>
<rect x="375" y="580" width="1" height="4" fill="#c0c0c0"/>
<rect x="383" y="581" width="1" height="3" fill="#c0c0c0"/>
<rect x="391" y="581" width="1" height="3" fill="#c0c0c0"/>
<rect x="399" y="582" width="1" height="2" fill="#c0c0c0"/>
<rect x="407" y="582" width="1" height="2" fill="#c0c0c0"/>
<rect x="415" y="582" width="1" height="2" fill="#c0c0c0"/>
<rect x="423" y="582" width="1" height="2" fill="#c0c0c0"/>
<rect x="431" y="582" width="1" height="2" fill="#c0c0c0"/>
<rect x="439" y="583" width="1" height="1" fill="#c0c0c0"/>
<rect x="447" y="583" width="1" height="1" fill="#c0c0c0"/>
<rect x="455" y="583" width="1" height="1" fill="#c0c0c0"/>
<rect x="463" y="583" width="1" height="1" fill="#c0c0c0"/>
<rect x="471" y="583" width="1" height="1" fill="#c0c0c0"/>
<rect x="479" y="583" width="1" height="1" fill="#c0c0c0"/>
<rect x="487" y="583" width="1" height="1" fill="#c0c0c0"/>
<rect x="495" y="583" width="1" height="1" fill="#c0c0c0"/>
<rect x="503" y="580" width="1" height="4" fill="#c0c0c0"/>
<rect x="511" y="578" width="1" height="6" fill="#c0c0c0"/>
<rect x="519" y="576" width="1" height="8" fill="#c0c0c0"/>
<rect x="527" y="574" width="1" height="10" fill="#c0c0c0"/>
<rect x="535" y="572" width="1" height="12" fill="#c0c0c0"/>
<rect x="543" y="569" width="1" height="15" fill="#c0c0c0"/>
<rect x="551" y="567" width="1" height="17" fill="#c0c0c0"/>
<rect x="559" y="565" width="1" height="19" fill="#c0c0c0"/>
<rect x="567" y="563" width="1" height="21" fill="#c0c0c0"/>
<rect x="575" y="561" width="1" height="23" fill="#c0c0c0"/>
<rect x="583" y="559" width="1" height="25" fill="#c0c0c0"/>
<rect x="591" y="557" width="1" height="27" fill="#c0c0c0"/>
<rect x="599" y="556" width="1" height="28" fill="#c0c0c0"/>
<rect x="607" y="555" width="1" height="29" fill="#c0c0c0"/>
<rect x="615" y="555" width="1" height="29" fill="#c0c0c0"/>
<rect x="623" y="556" width="1" height="28" fill="#c0c0c0"/>
<rect x="631" y="557" width="1" height="27" fill="#c0c0c0"/>
<rect x="639" y="557" width="1" height="27" fill="#c0c0c0"/>
<rect x="647" y="557" width="1" height="27" fill="#c0c0c0"/>
<rect x="655" y="556" width="1" height="28" fill="#c0c0c0"/>
<rect x="663" y="556" width="1" height="28" fill="#c0c0c0"/>
<rect x="671" y="556" width="1" height="28" fill="#c0c0c0"/>
<rect x="679" y="558" width="1" height="26" fill="#c0c0c0"/>
<rect x="687" y="559" width="1" height="25" fill="#c0c0c0"/>
<rect x="695" y="560" width="1" height="24" fill="#c0c0c0"/>
<rect x="703" y="560" width="1" height="24" fill="#c0c0c0"/>
<rect x="711" y="560" width="1" height="24" fill="#c0c0c0"/>
<rect x="719" y="561" width="1" height="23" fill="#c0c0c0"/>
<rect x="727" y="562" width="1" height="22" fill="#c0c0c0"/>
<rect x="735" y="563" width="1" height="21" fill="#c0c0c0"/>
<rect x="743" y="564" width="1" height="20" fill="#c0c0c0"/>
<rect x="751" y="565" width="1" height="19" fill="#c0c0c0"/>
<rect x="759" y="566" width="1" height="18" fill="#c0c0c0"/>
<rect x="767" y="565" width="1" height="19" fill="#c0c0c0"/>
<rect x="775" y="565" width="1" height="19" fill="#c0c0c0"/>
<rect x="783" y="567" width="1" height="17" fill="#c0c0c0"/>
<rect x="791" y="569" width="1" height="15" fill="#c0c0c0"/>
<rect x="799" y="571" width="1" height="13" fill="#c0c0c0"/>
<rect x="807" y="574" width="1" height="10" fill="#c0c0c0"/>
<rect x="815" y="575" width="1" height="9" fill="#c0c0c0"/>
<rect x="823" y="577" width="1" height="7" fill="#c0c0c0"/>
<rect x="831" y="578" width="1" height="6" fill="#c0c0c0"/>
<rect x="839" y="579" width="1" height="5" fill="#c0c0c0"/>
<rect x="847" y="580" width="1" height="4" fill="#c0c0c0"/>
<rect x="855" y="582" width="1" height="2" fill="#c0c0c0"/>
<rect x="863" y="582" width="1" height="2" fill="#c0c0c0"/>
<rect x="871" y="583" width="1" height="1" fill="#c0c0c0"/>
<rect x="879" y="583" width="1" height="1" fill="#c0c0c0"/>
<rect x="887" y="583" width="1" height="1" fill="#c0c0c0"/>
<rect x="895" y="580" width="1" height="4" fill="#c0c0c0"/>
<rect x="903" y="580" width="1" height="4" fill="#c0c0c0"/>
<rect x="911" y="579" width="1" height="5" fill="#c0c0c0"/>
<rect x="919" y="579" width="1" height="5" fill="#c0c0c0"/>
<rect x="927" y="580" width="1" height="4" fill="#c0c0c0"/>
<rect x="935" y="579" width="1" height="5" fill="#c0c0c0"/>
<rect x="943" y="578" width="1" height="6" fill="#c0c0c0"/>
<rect x="951" y="578" width="1" height="6" fill="#c0c0c0"/>
<rect x="959" y="576" width="1" height="8" fill="#c0c0c0"/>
<rect x="967" y="576" width="1" height="8" fill="#c0c0c0"/>
<rect x="975" y="575" width="1" height="9" fill="#c0c0c0"/>
<rect x="983" y="573" width="1" height="11" fill="#c0c0c0"/>
<rect x="991" y="571" width="1" height="13" fill="#c0c0c0"/>
<rect x="999" y="569" width="1" height="15" fill="#c0c0c0"/>
<rect x="1007" y="569" width="1" height="15" fill="#c0c0c0"/>
<rect x="1015" y="570" width="1" height="14" fill="#c0c0c0"/>
<rect x="1023" y="573" width="1" height="11" fill="#c0c0c0"/>
<rect x="1031" y="573" width="1" height="11" fill="#c0c0c0"/>
<rect x="1039" y="575" width="1" height="9" fill="#c0c0c0"/>
<rect x="1047" y="577" width="1" height="7" fill="#c0c0c0"/>
<rect x="1055" y="578" width="1" height="6" fill="#c0c0c0"/>
<rect x="1063" y="578" width="1" height="6" fill="#c0c0c0"/>
<rect x="1071" y="579" width="1" height="5" fill="#c0c0c0"/>
<rect x="1079" y="579" width="1" height="5" fill="#c0c0c0"/>
<rect x="1087" y="579" width="1" height="5" fill="#c0c0c0"/>
<rect x="1095" y="578" width="1" height="6" fill="#c0c0c0"/>
<rect x="1103" y="577" width="1" height="7" fill="#c0c0c0"/>
<rect x="1111" y="577" width="1" height="7" fill="#c0c0c0"/>
<rect x="1119" y="577" width="1" height="7" fill="#c0c0c0"/>
<rect x="1127" y="577" width="1" height="7" fill="#c0c0c0"/>
<rect x="1135" y="577" width="1" height="7" fill="#c0c0c0"/>
<rect x="1143" y="579" width="1" height="5" fill="#c0c0c0"/>
<rect x="1151" y="579" width="1" height="5" fill="#c0c0c0"/>
<rect x="1159" y="576" width="1" height="8" fill="#c0c0c0"/>
<rect x="1167" y="576" width="1" height="8" fill="#c0c0c0"/>
<rect x="1175" y="569" width="1" height="15" fill="#c0c0c0"/>
<rect x="1183" y="564" width="1" height="20" fill="#c0c0c0"/>
<rect x="1191" y="560" width="1" height="24" fill="#c0c0c0"/>
<rect x="1199" y="557" width="1" height="27" fill="#c0c0c0"/>
<rect x="1207" y="554" width="1" height="30" fill="#c0c0c0"/>
<rect x="1215" y="552" width="1" height="32" fill="#c0c0c0"/>
<rect x="1223" y="548" width="1" height="36" fill="#c0c0c0"/>
<rect x="1231" y="547" width="1" height="37" fill="#c0c0c0"/>
<rect x="1239" y="547" width="1" height="37" fill="#c0c0c0"/>
<rect x="1247" y="546" width="1" height="38" fill="#c0c0c0"/>
<rect x="1255" y="546" width="1" height="38" fill="#c0c0c0"/>
<rect x="1263" y="545" width="1" height="39" fill="#c0c0c0"/>
<rect x="1271" y="544" width="1" height="40" fill="#c0c0c0"/>
<rect x="1279" y="545" width="1" height="39" fill="#c0c0c0"/>
<rect x="1287" y="545" width="1" height="39" fill="#c0c0c0"/>
<rect x="1295" y="544" width="1" height="40" fill="#c0c0c0"/>
<rect x="1303" y="543" width="1" height="41" fill="#c0c0c0"/>
<rect x="1311" y="541" width="1" height="43" fill="#c0c0c0"/>
</g>
<polyline points="7.0,576.3 15.0,577.5 21.0,578.4 31.0,579.5 39.0,580.5 47.0,582.0 55.0,583.5 63.0,585.4 71.0,587.0 79.0,588.3 87.0,589.6 95.0,590.5 103.0,591.4 111.0,592.2 119.0,592.4 127.0,593.3 200.0,593.4 200.8,593.4 226.0,592.5 240.0,591.6 255.0,590.4 260.0,589.0 272.0,587.8 290.0,585.2 303.0,583.1 320.0,581.2 340.0,580.5 360.0,579.5 390.0,579.5 395.0,580.3 420.0,580.8 440.0,581.4 456.0,582.2 469.0,583.3 505.6,582.5 518.6,581.0 534.3,578.6 547.3,576.5 560.3,573.4 573.4,569.2 586.4,565.5 599.4,562.2 612.5,559.6 628.1,557.2 651.6,555.6 677.7,555.6 690.7,557.0 716.8,557.7 742.8,559.6 768.9,562.2 795.0,564.8 821.0,568.7 847.1,572.6 870.0,578.6 883.0,580.4 909.1,581.2 935.2,580.4 961.2,577.8 987.3,575.2 1013.4,572.6 1039.4,571.3 1052.5,571.8 1078.5,575.2 1104.6,577.0 1151.5,577.0 1169.8,576.0 1182.8,573.9 1195.9,571.3 1208.9,566.6 1221.9,562.2 1235.0,556.9 1248.0,551.7 1261.0,549.1 1274.1,546.5 1287.1,545.2 1300.1,544.7 1311.4,543.1" fill="none" stroke="#ff0000" stroke-width="1" stroke-dasharray="3 3" shape-rendering="crispEdges"/>
<text x="11" y="552" textLength="170.5" style="font-family:'DejaVu Sans Condensed','DejaVu Sans',sans-serif;font-size:12px;fill:#000">MACD(12,26,9) 16.456 15.236</text>
<g shape-rendering="crispEdges"><rect x="1664" y="538" width="2" height="1" fill="#000"/><rect x="1664" y="583" width="2" height="1" fill="#000"/><rect x="1664" y="596" width="2" height="1" fill="#000"/></g>
<text x="1667" y="550" style="font-family:'DejaVu Sans Condensed','DejaVu Sans',sans-serif;font-size:12px;fill:#000">17.495</text>
<text x="1667" y="587" style="font-family:'DejaVu Sans Condensed','DejaVu Sans',sans-serif;font-size:12px;fill:#000">0.00</text>
<text x="1667" y="593.5" style="font-family:'DejaVu Sans Condensed','DejaVu Sans',sans-serif;font-size:12px;fill:#000">-5.373</text>
<g shape-rendering="crispEdges">
<line x1="8" y1="639.5" x2="1660" y2="639.5" stroke="#b4b4b4" stroke-dasharray="3 3"/>
<line x1="8" y1="689.5" x2="1660" y2="689.5" stroke="#b4b4b4" stroke-dasharray="3 3"/>
</g>
<polyline points="7.0,675.1 15.0,676.5 23.0,675.1 27.0,675.1 31.0,676.1 39.0,676.1 47.0,688.9 55.0,690.2 63.0,686.4 71.0,687.4 79.0,688.3 87.0,688.3 95.0,686.4 103.0,682.2 111.0,683.2 119.0,687.4 127.0,686.4 135.0,692.2 143.0,687.0 151.0,683.6 159.0,683.6 167.0,684.1 175.0,686.0 183.0,675.1 191.0,675.5 199.0,680.3 207.0,679.0 215.0,682.2 223.0,676.5 231.0,666.0 239.0,645.5 247.0,652.0 255.0,651.2 263.0,652.2 271.0,654.1 279.0,657.0 287.0,653.5 295.0,652.0 303.0,651.2 311.0,646.3 319.0,651.2 327.0,651.2 335.0,654.5 343.0,653.5 351.0,651.2 359.0,662.1 367.0,661.2 375.0,664.1 383.0,674.2 391.0,674.2 399.0,673.0 407.0,674.2 415.0,654.5 423.0,658.3 431.0,661.2 439.0,670.4 447.0,671.7 455.0,676.9 463.0,681.3 471.0,675.5 479.0,650.7 487.0,647.4 495.0,645.5 503.0,643.6 511.0,638.2 519.0,634.4 527.0,630.6 535.0,626.8 543.0,623.2 551.0,621.9 559.0,620.1 567.0,618.8 575.0,617.2 583.0,615.4 591.0,616.1 599.0,624.5 607.0,620.3 615.0,633.2 623.0,635.6 631.0,632.3 639.0,635.5 647.0,634.6 655.0,628.3 663.0,627.2 671.0,641.1 679.0,641.1 687.0,639.2 695.0,639.2 703.0,635.4 711.0,633.5 719.0,632.1 727.0,644.4 735.0,644.4 743.0,645.5 751.0,642.4 759.0,642.1 767.0,636.3 775.0,636.3 783.0,649.7 791.0,662.1 799.0,667.9 807.0,669.2 815.0,664.6 823.0,664.1 831.0,661.2 839.0,662.1 847.0,672.7 855.0,676.9 863.0,666.0 871.0,664.1 879.0,663.1 887.0,655.4 895.0,648.8 903.0,653.2 911.0,652.0 919.0,657.0 927.0,656.4 935.0,655.4 943.0,650.7 951.0,650.1 959.0,647.4 967.0,643.8 975.0,639.6 983.0,638.2 991.0,628.2 999.0,629.6 1007.0,641.7 1015.0,658.8 1023.0,663.0 1031.0,658.4 1039.0,668.4 1047.0,667.8 1055.0,660.5 1063.0,661.5 1071.0,662.2 1079.0,660.5 1087.0,655.9 1095.0,647.6 1103.0,655.3 1111.0,655.3 1119.0,655.9 1127.0,659.4 1135.0,660.5 1143.0,663.2 1151.0,658.4 1159.0,644.2 1167.0,640.7 1175.0,626.1 1183.0,626.1 1191.0,627.1 1199.0,625.0 1207.0,623.4 1215.0,623.4 1223.0,618.8 1231.0,645.9 1239.0,640.7 1247.0,639.2 1255.0,639.2 1263.0,635.5 1271.0,639.2 1279.0,640.3 1287.0,637.5 1295.0,634.4 1303.0,632.3 1311.0,630.2" fill="none" stroke="#1e90ff" stroke-width="1" shape-rendering="crispEdges"/>
<text x="11" y="615" textLength="91.5" style="font-family:'DejaVu Sans Condensed','DejaVu Sans',sans-serif;font-size:12px;fill:#000">RSI(14) 76.8940</text>
<g shape-rendering="crispEdges"><rect x="1664" y="601" width="2" height="1" fill="#000"/><rect x="1664" y="727" width="2" height="1" fill="#000"/></g>
<text x="1667" y="613" style="font-family:'DejaVu Sans Condensed','DejaVu Sans',sans-serif;font-size:12px;fill:#000">100</text>
<text x="1667" y="644" style="font-family:'DejaVu Sans Condensed','DejaVu Sans',sans-serif;font-size:12px;fill:#000">70</text>
<text x="1667" y="694" style="font-family:'DejaVu Sans Condensed','DejaVu Sans',sans-serif;font-size:12px;fill:#000">30</text>
<text x="1667" y="725" style="font-family:'DejaVu Sans Condensed','DejaVu Sans',sans-serif;font-size:12px;fill:#000">0</text>
<g shape-rendering="crispEdges">
<rect x="7" y="729" width="1" height="3" fill="#000"/>
<rect x="103" y="729" width="1" height="3" fill="#000"/>
<rect x="199" y="729" width="1" height="3" fill="#000"/>
<rect x="295" y="729" width="1" height="3" fill="#000"/>
<rect x="391" y="729" width="1" height="3" fill="#000"/>
<rect x="487" y="729" width="1" height="3" fill="#000"/>
<rect x="583" y="729" width="1" height="3" fill="#000"/>
<rect x="679" y="729" width="1" height="3" fill="#000"/>
<rect x="775" y="729" width="1" height="3" fill="#000"/>
<rect x="871" y="729" width="1" height="3" fill="#000"/>
<rect x="967" y="729" width="1" height="3" fill="#000"/>
<rect x="1063" y="729" width="1" height="3" fill="#000"/>
<rect x="1159" y="729" width="1" height="3" fill="#000"/>
<rect x="1255" y="729" width="1" height="3" fill="#000"/>
</g>
<text x="6" y="744" textLength="70.8" style="font-family:'DejaVu Sans Condensed','DejaVu Sans',sans-serif;font-size:12px;fill:#000">16 May 2019</text>
<text x="102" y="744" textLength="74.8" style="font-family:'DejaVu Sans Condensed','DejaVu Sans',sans-serif;font-size:12px;fill:#000">20 May 16:00</text>
<text x="198" y="744" textLength="74.8" style="font-family:'DejaVu Sans Condensed','DejaVu Sans',sans-serif;font-size:12px;fill:#000">22 May 16:00</text>
<text x="294" y="744" textLength="74.8" style="font-family:'DejaVu Sans Condensed','DejaVu Sans',sans-serif;font-size:12px;fill:#000">24 May 16:00</text>
<text x="390" y="744" textLength="74.8" style="font-family:'DejaVu Sans Condensed','DejaVu Sans',sans-serif;font-size:12px;fill:#000">28 May 16:00</text>
<text x="486" y="744" textLength="74.8" style="font-family:'DejaVu Sans Condensed','DejaVu Sans',sans-serif;font-size:12px;fill:#000">30 May 16:00</text>
<text x="582" y="744" textLength="66.2" style="font-family:'DejaVu Sans Condensed','DejaVu Sans',sans-serif;font-size:12px;fill:#000">3 Jun 16:00</text>
<text x="678" y="744" textLength="66.2" style="font-family:'DejaVu Sans Condensed','DejaVu Sans',sans-serif;font-size:12px;fill:#000">5 Jun 16:00</text>
<text x="774" y="744" textLength="66.2" style="font-family:'DejaVu Sans Condensed','DejaVu Sans',sans-serif;font-size:12px;fill:#000">7 Jun 16:00</text>
<text x="870" y="744" textLength="72.3" style="font-family:'DejaVu Sans Condensed','DejaVu Sans',sans-serif;font-size:12px;fill:#000">11 Jun 16:00</text>
<text x="966" y="744" textLength="72.3" style="font-family:'DejaVu Sans Condensed','DejaVu Sans',sans-serif;font-size:12px;fill:#000">13 Jun 16:00</text>
<text x="1062" y="744" textLength="72.3" style="font-family:'DejaVu Sans Condensed','DejaVu Sans',sans-serif;font-size:12px;fill:#000">17 Jun 16:00</text>
<text x="1158" y="744" textLength="72.3" style="font-family:'DejaVu Sans Condensed','DejaVu Sans',sans-serif;font-size:12px;fill:#000">19 Jun 16:00</text>
<text x="1254" y="744" textLength="72.3" style="font-family:'DejaVu Sans Condensed','DejaVu Sans',sans-serif;font-size:12px;fill:#000">21 Jun 16:00</text>
</svg></body></html>
